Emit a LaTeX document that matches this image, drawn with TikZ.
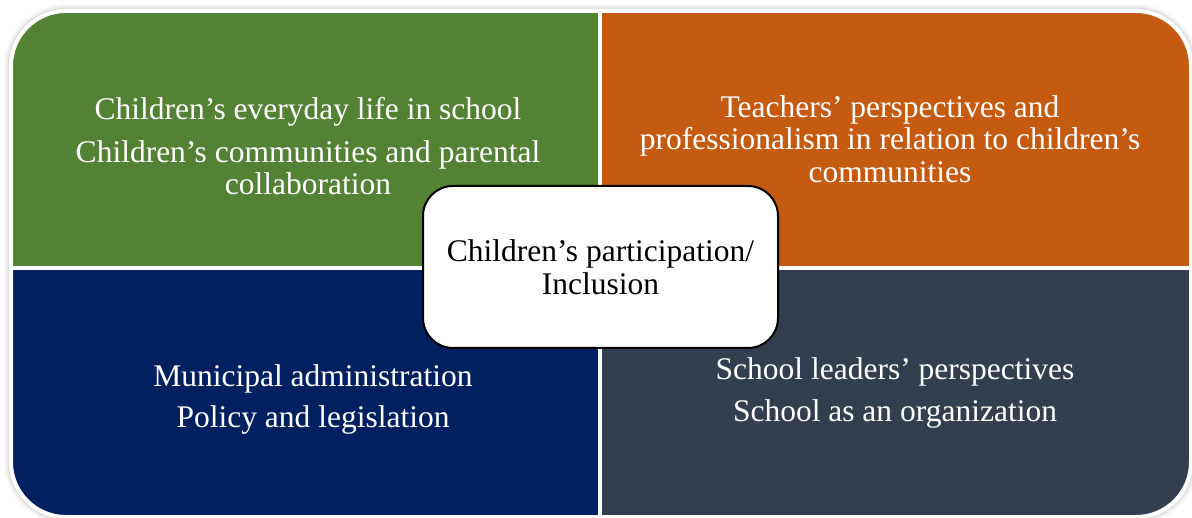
\documentclass[tikz,border=0pt]{standalone}
\usepackage{fontspec}
\setmainfont{Liberation Serif}
\definecolor{qgreen}{HTML}{548235}
\definecolor{qorange}{HTML}{C55A11}
\definecolor{qnavy}{HTML}{002060}
\definecolor{qslate}{HTML}{333F50}

\begin{document}
\begin{tikzpicture}[x=1pt, y=-1pt,
    qtext/.style={text=white, align=center, font=\fontsize{31.5}{32.5}\selectfont},
    hub/.style={draw=black, line width=2pt, fill=white, rounded corners=30pt,
        minimum width=355pt, minimum height=162pt, align=center,
        font=\fontsize{31.5}{32.5}\selectfont}]
    \useasboundingbox (0,0) rectangle (1192,518);
    % soft shadow round the block
    \foreach \w/\o in {14/0.03, 10/0.04, 7/0.05}{
    \draw[black, line width=\w pt, opacity=\o, rounded corners=55pt](11,11) rectangle (1191,517);
    }
    % the four quadrants
    \foreach \xa/\ya/\xb/\yb/\c in {11/11/599.5/268/qgreen, 599.5/11/1191/268/qorange,
        11/268/599.5/517/qnavy, 599.5/268/1191/517/qslate}{
    \begin{scope}
        \clip (\xa,\ya) rectangle (\xb,\yb);
        \fill[\c, rounded corners=55pt] (11,11) rectangle (1191,517);
    \end{scope}
    }
    \draw[white, line width=4pt, rounded corners=55pt] (11,11) rectangle (1191,517);
    \draw[white, line width=4pt] (599.5,11) -- (599.5,517);
    \draw[white, line width=4pt] (11,268) -- (1191,268);
    \node (G) at (308,146.5)[qtext]{Children’s everyday life in school\\[10pt]
        Children’s communities and parental\\ collaboration};
    \node (O) at (890,139)[qtext]{Teachers’ perspectives and\\
        professionalism in relation to children’s\\ communities};
    \node (N) at (313,399.5)[qtext]{Municipal administration\\[9pt] Policy and legislation};
    \node (S) at (895,393)[qtext]{School leaders’ perspectives\\[9pt] School as an organization};
    \node (H) at (600.5,267)[hub]{Children’s participation/\\ Inclusion};
\end{tikzpicture}
\end{document}
